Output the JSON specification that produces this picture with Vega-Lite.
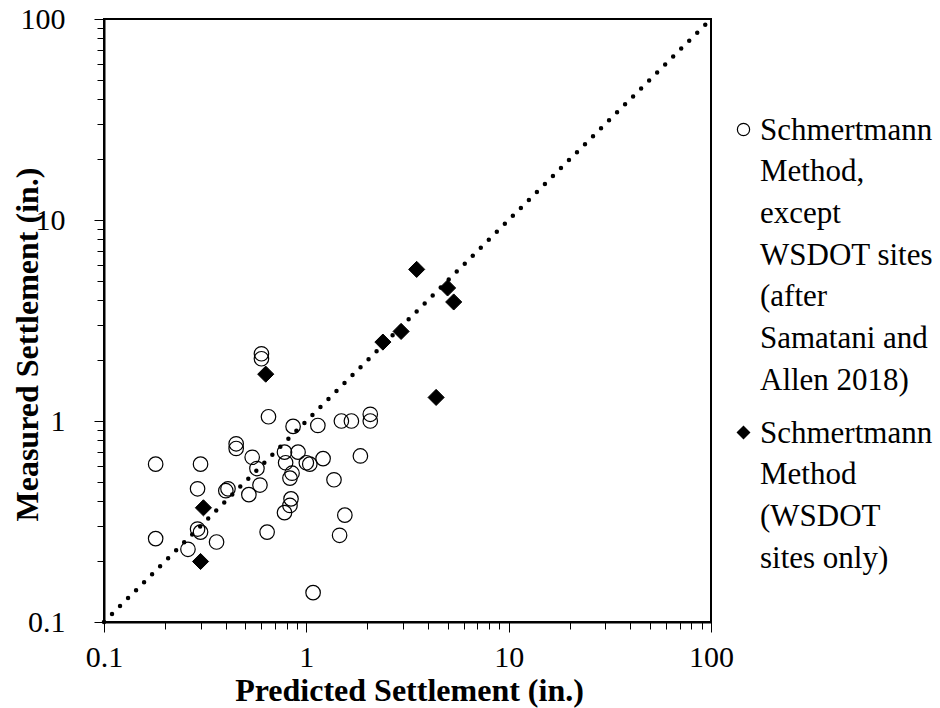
{
  "$schema": "https://vega.github.io/schema/vega-lite/v6.json",
  "width": 607,
  "height": 603,
  "autosize": "none",
  "padding": {"left": 104, "top": 19, "right": 229, "bottom": 86},
  "background": "white",
  "config": {
    "font": "Liberation Serif",
    "view": {"stroke": "black", "strokeWidth": 2},
    "style": {
      "guide-label": {"font": "Liberation Serif", "lineHeight": 41.7, "dy": 10}
    },
    "legend": {
      "labelFont": "Liberation Serif",
      "symbolStrokeWidth": 1.2,
      "symbolOpacity": 1
    }
  },
  "datasets": {
    "points": [
      {"predicted": 0.60, "measured": 2.16, "method": "A"},
      {"predicted": 0.60, "measured": 2.04, "method": "A"},
      {"predicted": 0.65, "measured": 1.05, "method": "A"},
      {"predicted": 0.86, "measured": 0.94, "method": "A"},
      {"predicted": 1.14, "measured": 0.95, "method": "A"},
      {"predicted": 1.49, "measured": 1.00, "method": "A"},
      {"predicted": 1.67, "measured": 1.00, "method": "A"},
      {"predicted": 2.07, "measured": 1.08, "method": "A"},
      {"predicted": 2.07, "measured": 1.00, "method": "A"},
      {"predicted": 0.45, "measured": 0.77, "method": "A"},
      {"predicted": 0.45, "measured": 0.73, "method": "A"},
      {"predicted": 0.54, "measured": 0.66, "method": "A"},
      {"predicted": 0.57, "measured": 0.58, "method": "A"},
      {"predicted": 0.59, "measured": 0.48, "method": "A"},
      {"predicted": 0.52, "measured": 0.43, "method": "A"},
      {"predicted": 0.40, "measured": 0.45, "method": "A"},
      {"predicted": 0.41, "measured": 0.46, "method": "A"},
      {"predicted": 0.78, "measured": 0.70, "method": "A"},
      {"predicted": 0.91, "measured": 0.70, "method": "A"},
      {"predicted": 0.79, "measured": 0.62, "method": "A"},
      {"predicted": 1.00, "measured": 0.62, "method": "A"},
      {"predicted": 1.04, "measured": 0.61, "method": "A"},
      {"predicted": 0.85, "measured": 0.55, "method": "A"},
      {"predicted": 0.83, "measured": 0.52, "method": "A"},
      {"predicted": 1.21, "measured": 0.65, "method": "A"},
      {"predicted": 1.85, "measured": 0.67, "method": "A"},
      {"predicted": 1.37, "measured": 0.51, "method": "A"},
      {"predicted": 0.84, "measured": 0.41, "method": "A"},
      {"predicted": 0.83, "measured": 0.38, "method": "A"},
      {"predicted": 0.78, "measured": 0.35, "method": "A"},
      {"predicted": 1.55, "measured": 0.34, "method": "A"},
      {"predicted": 1.46, "measured": 0.27, "method": "A"},
      {"predicted": 0.64, "measured": 0.28, "method": "A"},
      {"predicted": 0.36, "measured": 0.25, "method": "A"},
      {"predicted": 0.26, "measured": 0.23, "method": "A"},
      {"predicted": 0.29, "measured": 0.29, "method": "A"},
      {"predicted": 0.30, "measured": 0.28, "method": "A"},
      {"predicted": 0.29, "measured": 0.46, "method": "A"},
      {"predicted": 0.30, "measured": 0.61, "method": "A"},
      {"predicted": 0.18, "measured": 0.61, "method": "A"},
      {"predicted": 0.18, "measured": 0.26, "method": "A"},
      {"predicted": 1.08, "measured": 0.14, "method": "A"},
      {"predicted": 3.51, "measured": 5.68, "method": "B"},
      {"predicted": 4.99, "measured": 4.59, "method": "B"},
      {"predicted": 5.35, "measured": 3.91, "method": "B"},
      {"predicted": 2.94, "measured": 2.79, "method": "B"},
      {"predicted": 2.39, "measured": 2.47, "method": "B"},
      {"predicted": 4.38, "measured": 1.31, "method": "B"},
      {"predicted": 0.63, "measured": 1.71, "method": "B"},
      {"predicted": 0.31, "measured": 0.37, "method": "B"},
      {"predicted": 0.30, "measured": 0.20, "method": "B"}
    ],
    "line": [
      {"predicted": 0.1, "measured": 0.1},
      {"predicted": 100, "measured": 100}
    ]
  },
  "encoding": {
    "x": {
      "field": "predicted",
      "type": "quantitative",
      "scale": {"type": "log", "domain": [0.1, 100], "nice": false},
      "axis": {
        "title": "Predicted Settlement (in.)",
        "values": [0.1, 0.2, 0.3, 0.4, 0.5, 0.6, 0.7, 0.8, 0.9, 1, 2, 3, 4, 5, 6, 7, 8, 9, 10, 20, 30, 40, 50, 60, 70, 80, 90, 100],
        "labelExpr": "datum.value == 0.1 ? '0.1' : datum.value == 1 ? '1' : datum.value == 10 ? '10' : datum.value == 100 ? '100' : ''",
        "tickSize": {"condition": {"test": "datum.value == 0.1 || datum.value == 1 || datum.value == 10 || datum.value == 100", "value": 10}, "value": 7},
        "tickColor": "black",
        "tickWidth": 1,
        "domainColor": "black",
        "domainWidth": 2,
        "grid": false,
        "labelFont": "Liberation Serif",
        "labelFontSize": 30,
        "labelColor": "black",
        "labelPadding": 0,
        "labelFlush": false,
        "labelOverlap": false,
        "titleFont": "Liberation Serif",
        "titleFontSize": 32,
        "titleFontWeight": "bold",
        "titleColor": "black",
        "titleBaseline": "alphabetic",
        "titleX": 305,
        "titleY": 78
      }
    },
    "y": {
      "field": "measured",
      "type": "quantitative",
      "scale": {"type": "log", "domain": [0.1, 100], "nice": false},
      "axis": {
        "title": "Measured Settlement (in.)",
        "values": [0.1, 0.2, 0.3, 0.4, 0.5, 0.6, 0.7, 0.8, 0.9, 1, 2, 3, 4, 5, 6, 7, 8, 9, 10, 20, 30, 40, 50, 60, 70, 80, 90, 100],
        "labelExpr": "datum.value == 0.1 ? '0.1' : datum.value == 1 ? '1' : datum.value == 10 ? '10' : datum.value == 100 ? '100' : ''",
        "tickSize": {"condition": {"test": "datum.value == 0.1 || datum.value == 1 || datum.value == 10 || datum.value == 100", "value": 10}, "value": 7},
        "tickColor": "black",
        "tickWidth": 1,
        "domainColor": "black",
        "domainWidth": 2,
        "grid": false,
        "labelFont": "Liberation Serif",
        "labelFontSize": 30,
        "labelColor": "black",
        "labelPadding": 29,
        "labelOffset": -10,
        "labelFlush": false,
        "labelOverlap": false,
        "titleFont": "Liberation Serif",
        "titleFontSize": 32,
        "titleFontWeight": "bold",
        "titleColor": "black",
        "titleAngle": -90,
        "titleAlign": "center",
        "titleBaseline": "alphabetic",
        "titleX": -67,
        "titleY": 325
      }
    },
    "shape": {
      "field": "method",
      "type": "nominal",
      "scale": {"domain": ["A", "B"], "range": ["circle", "diamond"]},
      "legend": {
        "title": null,
        "orient": "none",
        "legendX": 624,
        "legendY": 95,
        "padding": 0,
        "labelFont": "Liberation Serif",
        "labelFontSize": 31,
        "labelColor": "black",
        "labelLimit": 400,
        "labelBaseline": "alphabetic",
        "labelOffset": 1,
        "rowPadding": 21,
        "symbolSize": 150,
        "symbolStrokeWidth": 1.2,
        "labelExpr": "datum.value == 'B' ? ['Schmertmann', 'Method', '(WSDOT', 'sites only)'] : ['Schmertmann', 'Method,', 'except', 'WSDOT sites', '(after', 'Samatani and', 'Allen 2018)']"
      }
    },
    "fill": {
      "field": "method",
      "type": "nominal",
      "scale": {"domain": ["A", "B"], "range": ["transparent", "black"]},
      "legend": {
        "title": null,
        "orient": "none",
        "legendX": 624,
        "legendY": 95,
        "padding": 0,
        "labelFont": "Liberation Serif",
        "labelFontSize": 31,
        "labelColor": "black",
        "labelLimit": 400,
        "labelBaseline": "alphabetic",
        "labelOffset": 1,
        "rowPadding": 21,
        "symbolSize": 150,
        "symbolStrokeWidth": 1.2,
        "labelExpr": "datum.value == 'B' ? ['Schmertmann', 'Method', '(WSDOT', 'sites only)'] : ['Schmertmann', 'Method,', 'except', 'WSDOT sites', '(after', 'Samatani and', 'Allen 2018)']"
      }
    },
    "stroke": {
      "field": "method",
      "type": "nominal",
      "scale": {"domain": ["A", "B"], "range": ["black", "black"]},
      "legend": {
        "title": null,
        "orient": "none",
        "legendX": 624,
        "legendY": 95,
        "padding": 0,
        "labelFont": "Liberation Serif",
        "labelFontSize": 31,
        "labelColor": "black",
        "labelLimit": 400,
        "labelBaseline": "alphabetic",
        "labelOffset": 1,
        "rowPadding": 21,
        "symbolSize": 150,
        "symbolStrokeWidth": 1.2,
        "labelExpr": "datum.value == 'B' ? ['Schmertmann', 'Method', '(WSDOT', 'sites only)'] : ['Schmertmann', 'Method,', 'except', 'WSDOT sites', '(after', 'Samatani and', 'Allen 2018)']"
      }
    }
  },
  "layer": [
    {
      "data": {"name": "line"},
      "mark": {"type": "line", "color": "black", "strokeWidth": 4.5, "strokeDash": [0, 11.3], "strokeCap": "round"},
      "encoding": {"shape": null, "fill": null, "stroke": null}
    },
    {
      "data": {"name": "points"},
      "transform": [{"filter": "datum.method == 'A'"}],
      "mark": {"type": "point", "strokeWidth": 1.2, "opacity": 1, "size": 210}
    },
    {
      "data": {"name": "points"},
      "transform": [{"filter": "datum.method == 'B'"}],
      "mark": {"type": "point", "strokeWidth": 1, "opacity": 1, "size": 260}
    }
  ]
}
